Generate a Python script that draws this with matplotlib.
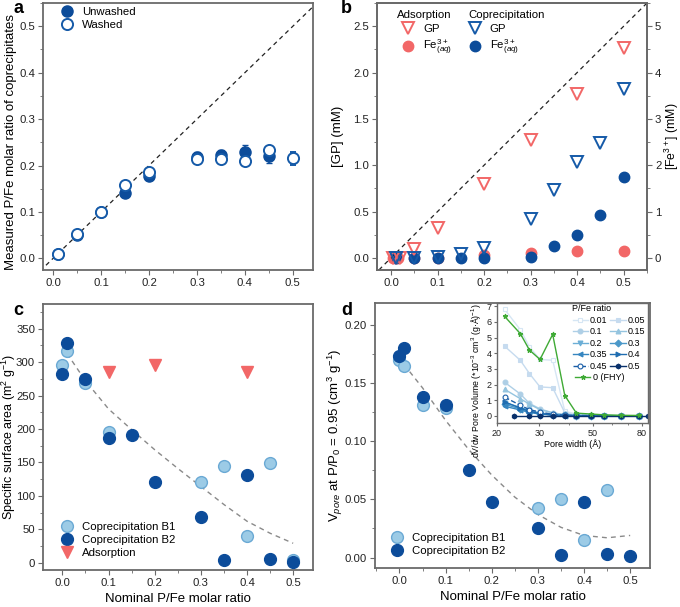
import numpy as np
import matplotlib
matplotlib.use("Agg")
import matplotlib.pyplot as plt
from matplotlib.lines import Line2D
from matplotlib.ticker import MultipleLocator, FixedLocator, NullFormatter, FixedFormatter

plt.rcParams['font.family'] = ['Liberation Sans', 'DejaVu Sans']
plt.rcParams['mathtext.fontset'] = 'custom'
plt.rcParams['mathtext.rm'] = 'Liberation Sans'
plt.rcParams['mathtext.it'] = 'Liberation Sans:italic'
plt.rcParams['mathtext.bf'] = 'Liberation Sans:bold'
plt.rcParams['font.size'] = 8.5

# === Data: panel a ===
a_x_unw = [0.01, 0.05, 0.1, 0.15, 0.2, 0.3, 0.35, 0.4, 0.45]
a_y_unw = [0.010, 0.050, 0.100, 0.140, 0.178, 0.218, 0.222, 0.230, 0.220]
a_e_unw = [0.004, 0.004, 0.004, 0.005, 0.008, 0.012, 0.012, 0.014, 0.014]
a_x_wash = [0.01, 0.05, 0.1, 0.15, 0.2, 0.3, 0.35, 0.4, 0.45, 0.5]
a_y_wash = [0.010, 0.052, 0.100, 0.158, 0.185, 0.213, 0.215, 0.210, 0.233, 0.216]
a_e_wash = [0.005, 0.005, 0.004, 0.004, 0.006, 0.010, 0.008, 0.005, 0.008, 0.014]

# === Data: panel b ===
b_x_ads_gp = [0.005, 0.01, 0.02, 0.05, 0.1, 0.2, 0.3, 0.4, 0.5]
b_y_ads_gp = [0.0, 0.0, 0.0, 0.10, 0.32, 0.80, 1.27, 1.77, 2.27]
b_x_ads_fe = [0.005, 0.015, 0.05, 0.1, 0.2, 0.3, 0.4, 0.5]
b_y_ads_fe = [0.0, 0.0, 0.0, 0.0, 0.07, 0.10, 0.16, 0.15]
b_x_cop = [0.01, 0.05, 0.1, 0.15, 0.2, 0.3, 0.35, 0.4, 0.45, 0.5]
b_y_cop_gp = [0.0, 0.0, 0.01, 0.047, 0.11, 0.42, 0.73, 1.04, 1.24, 1.82]
b_y_cop_fe = [0.0, 0.0, 0.0, 0.0, 0.0, 0.03, 0.26, 0.50, 0.93, 1.75]

# === Data: panel c ===
c_x_b1 = [0.0, 0.01, 0.05, 0.1, 0.3, 0.35, 0.4, 0.45, 0.5]
c_y_b1 = [296, 317, 269, 196, 121, 144, 40, 149, 4]
c_x_b2 = [0.0, 0.01, 0.05, 0.1, 0.15, 0.2, 0.3, 0.35, 0.4, 0.45, 0.5]
c_y_b2 = [283, 328, 275, 187, 191, 121, 68, 4, 131, 5, 1]
c_x_ads = [0.1, 0.2, 0.4]
c_y_ads = [286, 296, 286]
c_fit_x = [0.01, 0.05, 0.1, 0.15, 0.2, 0.25, 0.3, 0.35, 0.4, 0.45, 0.5]
c_fit_y = [313, 272, 230, 199, 169, 141, 114, 87, 62, 44, 29]

# === Data: panel d ===
d_x_b1 = [0.0, 0.01, 0.05, 0.1, 0.3, 0.35, 0.4, 0.45]
d_y_b1 = [0.170, 0.165, 0.131, 0.129, 0.043, 0.050, 0.015, 0.058]
d_x_b2 = [0.0, 0.01, 0.05, 0.1, 0.15, 0.2, 0.3, 0.35, 0.4, 0.45, 0.5]
d_y_b2 = [0.173, 0.180, 0.138, 0.131, 0.075, 0.048, 0.025, 0.002, 0.048, 0.003, 0.0015]
d_fit_x = [0.01, 0.05, 0.1, 0.15, 0.2, 0.25, 0.3, 0.35, 0.4, 0.45, 0.5]
d_fit_y = [0.166, 0.146, 0.118, 0.093, 0.071, 0.052, 0.037, 0.026, 0.019, 0.017, 0.019]

# === Data: inset (pore size distribution) ===
pore_w = [21.5, 25.0, 27.3, 30.2, 34.1, 38.3, 42.8, 49.4, 56.0, 65.7, 77.7]
pore_w_05 = [23.6, 27.3, 30.2, 34.1, 38.3, 42.8, 49.4, 56.0, 65.7, 77.7, 85.0]
psd_labels = ['0.01', '0.05', '0.1', '0.15', '0.2', '0.3', '0.35', '0.4', '0.45', '0.5', '0 (FHY)']
psd_vals = {
    '0.01': [6.8, 5.5, 4.4, 3.6, 3.55, 0.30, 0.12, 0.06, 0.03, 0.02, 0.01],
    '0.05': [4.45, 3.55, 2.7, 1.85, 1.8, 0.20, 0.08, 0.05, 0.03, 0.02, 0.01],
    '0.1': [2.15, 1.4, 0.8, 0.45, 0.2, 0.08, 0.05, 0.03, 0.02, 0.01, 0.01],
    '0.15': [1.7, 1.1, 0.75, 0.4, 0.2, 0.07, 0.04, 0.03, 0.02, 0.01, 0.01],
    '0.2': [0.85, 0.55, 0.35, 0.2, 0.08, 0.04, 0.03, 0.02, 0.01, 0.01, 0.0],
    '0.3': [0.75, 0.45, 0.28, 0.15, 0.06, 0.03, 0.02, 0.01, 0.01, 0.0, 0.0],
    '0.35': [0.62, 0.38, 0.22, 0.12, 0.05, 0.02, 0.01, 0.01, 0.0, 0.0, 0.0],
    '0.4': [0.9, 0.5, 0.3, 0.15, 0.06, 0.03, 0.02, 0.01, 0.01, 0.0, 0.0],
    '0.45': [1.2, 0.68, 0.4, 0.25, 0.1, 0.05, 0.03, 0.02, 0.01, 0.01, 0.0],
    '0.5': [0.0, 0.0, 0.0, 0.0, 0.0, 0.0, 0.0, 0.0, 0.0, 0.0, 0.0],
    '0 (FHY)': [6.35, 5.25, 4.2, 3.6, 5.2, 1.3, 0.18, 0.12, 0.07, 0.04, 0.03],
}
# colour, marker, linestyle, hollow
psd_style = {
    '0.01': ('#d6e6f4', 's', '-', True),
    '0.05': ('#c6dbef', 's', '-', False),
    '0.1': ('#aecfe6', 'o', '-', False),
    '0.15': ('#94c4df', '^', '-', False),
    '0.2': ('#6baed6', 'v', '-', False),
    '0.3': ('#4a98c9', 'D', '-', False),
    '0.35': ('#3585c0', '<', '-', False),
    '0.4': ('#1f6db1', '>', '-', False),
    '0.45': ('#1a5ea8', 'o', '--', True),
    '0.5': ('#08306b', 'h', '-', False),
    '0 (FHY)': ('#3faa35', '*', '-', False),
}

BLUE = '#155aa8'
DARK = '#0c4c9a'
LIGHT = '#9ccbe6'
LIGHT_EDGE = '#6aa9d4'
RED = '#f26767'
SPINE = '#6a6a6a'
TICK_FS = 8.2
LAB_FS = 9.5
LEG_FS = 8.2

W, H = 680, 607
fig = plt.figure(figsize=(W / 100, H / 100), dpi=100)


def px_axes(left, top, right, bottom):
    return fig.add_axes([left / W, 1 - bottom / H, (right - left) / W, (bottom - top) / H])


def style(ax):
    for s in ax.spines.values():
        s.set_color(SPINE)
        s.set_linewidth(1.3)
    ax.tick_params(which='both', direction='out', colors='#222222', labelsize=TICK_FS,
                   top=False, right=False, pad=2.2)
    ax.tick_params(which='major', length=3.5, color=SPINE)
    ax.tick_params(which='minor', length=2, color=SPINE)


# === Panel a ===
ax = px_axes(43, 3, 313, 270)
style(ax)
ax.plot([-0.1, 0.6], [-0.1, 0.6], ls=(0, (3.5, 3)), color='#222222', lw=0.9, zorder=1)
ax.errorbar(a_x_unw, a_y_unw, yerr=a_e_unw, fmt='o', ms=8, color=DARK, mec=DARK,
            capsize=2, elinewidth=1.1, zorder=3)
ax.errorbar(a_x_wash, a_y_wash, yerr=a_e_wash, fmt='o', ms=8, color=BLUE, mfc='white',
            mec=BLUE, mew=1.4, capsize=2, elinewidth=1.1, zorder=4)
ax.set_xlim(-0.021, 0.542)
ax.set_ylim(-0.025, 0.55)
ax.xaxis.set_major_locator(MultipleLocator(0.1))
ax.xaxis.set_minor_locator(MultipleLocator(0.05))
ax.yaxis.set_major_locator(MultipleLocator(0.1))
ax.yaxis.set_minor_locator(MultipleLocator(0.05))
ax.set_ylabel('Measured P/Fe molar ratio of coprecipitates', fontsize=LAB_FS)
ax.yaxis.set_label_coords(-0.096, 0.48)
h1 = Line2D([], [], marker='o', ls='', ms=8, color=DARK)
h2 = Line2D([], [], marker='o', ls='', ms=8, mfc='white', mec=BLUE, mew=1.4)
ax.legend([h1, h2], ['Unwashed', 'Washed'], loc='upper left', frameon=False,
          bbox_to_anchor=(0.056, 0.985), borderaxespad=0, borderpad=0, handlelength=1.6,
          handletextpad=0.5, labelspacing=0.25, fontsize=LEG_FS)
fig.text(13 / W, 1 - 13 / H, 'a', fontsize=13, fontweight='bold')

# === Panel b ===
ax = px_axes(377, 3, 647, 270)
style(ax)
ax2 = ax.twinx()
style(ax2)
ax2.tick_params(which='both', right=True, left=False)
ax.plot([-0.1, 0.6], [-0.5, 3.0], ls=(0, (3.5, 3)), color='#222222', lw=0.9, zorder=1)
ax2.errorbar(b_x_ads_fe, b_y_ads_fe, yerr=0.05, fmt='o', ms=7.5, color=RED, ecolor='white',
             elinewidth=1.0, capsize=1.8, zorder=2)
ax.plot(b_x_ads_gp, b_y_ads_gp, 'v', ms=9, mfc='none', mec=RED, mew=1.4, zorder=3)
ax.plot(b_x_cop, b_y_cop_gp, 'v', ms=9, mfc='none', mec=BLUE, mew=1.4, zorder=3)
ax2.errorbar(b_x_cop, b_y_cop_fe, yerr=[0, 0, 0, 0, 0, 0.05, 0.06, 0.05, 0.04, 0.0],
             fmt='o', ms=7.5, color=DARK, ecolor='white', elinewidth=1.0, capsize=1.8, zorder=4)
ax.set_xlim(-0.03, 0.55)
ax.set_ylim(-0.13, 2.75)
ax2.set_ylim(-0.26, 5.5)
ax.set_zorder(ax2.get_zorder() + 1)
ax.patch.set_visible(False)
ax.xaxis.set_major_locator(MultipleLocator(0.1))
ax.xaxis.set_minor_locator(MultipleLocator(0.05))
ax.yaxis.set_major_locator(MultipleLocator(0.5))
ax.yaxis.set_minor_locator(MultipleLocator(0.25))
ax2.yaxis.set_major_locator(MultipleLocator(1))
ax2.yaxis.set_minor_locator(MultipleLocator(0.5))
ax.set_ylabel('[GP] (mM)', fontsize=LAB_FS)
ax.yaxis.set_label_coords(-0.124, 0.5)
ax2.set_ylabel('[Fe$^{3+}$] (mM)', fontsize=8.8)
ax2.yaxis.set_label_coords(1.058, 0.5)
hb = [Line2D([], [], marker='v', ls='', ms=9, mfc='none', mec=RED, mew=1.4),
      Line2D([], [], marker='o', ls='', ms=7.5, color=RED),
      Line2D([], [], marker='v', ls='', ms=9, mfc='none', mec=BLUE, mew=1.4),
      Line2D([], [], marker='o', ls='', ms=7.5, color=DARK)]
ax.legend(hb, ['GP', 'Fe$^{3+}_{(aq)}$', 'GP', 'Fe$^{3+}_{(aq)}$'], ncol=2, loc='upper left',
          bbox_to_anchor=(0.082, 0.922), borderaxespad=0, borderpad=0, frameon=False,
          fontsize=LEG_FS, columnspacing=1.2, handlelength=1.6, handletextpad=0.5,
          labelspacing=0.3)
ax.text(0.074, 0.975, 'Adsorption', transform=ax.transAxes, fontsize=LEG_FS, va='top')
ax.text(0.34, 0.975, 'Coprecipitation', transform=ax.transAxes, fontsize=LEG_FS, va='top')
fig.text(341 / W, 1 - 13 / H, 'b', fontsize=13, fontweight='bold')

# === Panel c ===
ax = px_axes(43, 304, 313, 570)
style(ax)
ax.plot(c_fit_x, c_fit_y, ls=(0, (3.5, 3)), color='#8a8a8a', lw=1.0, zorder=1)
ax.plot(c_x_b1, c_y_b1, 'o', ms=8.5, mfc=LIGHT, mec=LIGHT_EDGE, mew=1.0, zorder=2,
        label='Coprecipitation B1')
ax.plot(c_x_b2, c_y_b2, 'o', ms=8.5, color=DARK, zorder=3, label='Coprecipitation B2')
ax.plot(c_x_ads, c_y_ads, 'v', ms=9, color=RED, zorder=3, label='Adsorption')
ax.set_xlim(-0.042, 0.543)
ax.set_ylim(-11, 387)
ax.xaxis.set_major_locator(MultipleLocator(0.1))
ax.xaxis.set_minor_locator(MultipleLocator(0.05))
ax.yaxis.set_major_locator(MultipleLocator(50))
ax.yaxis.set_minor_locator(MultipleLocator(25))
ax.set_ylabel('Specific surface area (m$^2$ g$^{-1}$)', fontsize=9)
ax.yaxis.set_label_coords(-0.094, 0.5)
ax.set_xlabel('Nominal P/Fe molar ratio', fontsize=LAB_FS, labelpad=4)
ax.legend(loc='lower left', frameon=False, bbox_to_anchor=(0.056, 0.045), borderaxespad=0,
          borderpad=0, fontsize=LEG_FS, handlelength=1.6, handletextpad=0.5,
          labelspacing=0.25)
fig.text(13 / W, 1 - 315 / H, 'c', fontsize=13, fontweight='bold')

# === Panel d ===
ax = px_axes(375, 303, 650, 568)
style(ax)
ax.plot(d_fit_x, d_fit_y, ls=(0, (3.5, 3)), color='#8a8a8a', lw=1.0, zorder=1)
ax.plot(d_x_b1, d_y_b1, 'o', ms=8.5, mfc=LIGHT, mec=LIGHT_EDGE, mew=1.0, zorder=2,
        label='Coprecipitation B1')
ax.plot(d_x_b2, d_y_b2, 'o', ms=8.5, color=DARK, zorder=3, label='Coprecipitation B2')
ax.set_xlim(-0.053, 0.543)
ax.set_ylim(-0.009, 0.219)
ax.xaxis.set_major_locator(MultipleLocator(0.1))
ax.xaxis.set_minor_locator(MultipleLocator(0.05))
ax.yaxis.set_major_locator(MultipleLocator(0.05))
ax.yaxis.set_minor_locator(MultipleLocator(0.025))
ax.set_ylabel('V$_{pore}$ at P/P$_0$ = 0.95 (cm$^3$ g$^{-1}$)', fontsize=LAB_FS)
ax.yaxis.set_label_coords(-0.11, 0.5)
ax.set_xlabel('Nominal P/Fe molar ratio', fontsize=LAB_FS, labelpad=4)
ax.legend(loc='lower left', frameon=False, bbox_to_anchor=(0.047, 0.045), borderaxespad=0,
          borderpad=0, fontsize=LEG_FS, handlelength=1.6, handletextpad=0.5,
          labelspacing=0.25)
fig.text(341 / W, 1 - 315 / H, 'd', fontsize=13, fontweight='bold')

# === Inset ===
ins = px_axes(497, 303, 648, 423)
for s in ins.spines.values():
    s.set_color(SPINE)
    s.set_linewidth(1.0)
ins.tick_params(which='both', direction='out', labelsize=6.5, colors='#222222', pad=1.5)
ins.tick_params(which='major', length=2.5, color=SPINE)
ins.tick_params(which='minor', length=1.5, color=SPINE)
handles = {}
for lab in psd_labels:
    col, mk, ls, hollow = psd_style[lab]
    xs = pore_w_05 if lab == '0.5' else pore_w
    ln, = ins.plot(xs, psd_vals[lab], ls=ls, marker=mk, color=col, lw=1.0, ms=3.5,
                   mfc='white' if hollow else col, mec=col, mew=0.8,
                   zorder=3 if lab == '0 (FHY)' else 2)
    handles[lab] = ln
ins.set_xscale('log')
ins.set_xlim(20, 85)
ins.set_ylim(-0.45, 7.2)
ins.xaxis.set_major_locator(FixedLocator([20, 30, 50, 80]))
ins.xaxis.set_major_formatter(FixedFormatter(['20', '30', '50', '80']))
ins.xaxis.set_minor_formatter(NullFormatter())
ins.yaxis.set_major_locator(MultipleLocator(1))
ins.set_xlabel('Pore width (Å)', fontsize=6.5, labelpad=1)
ins.set_ylabel('dV/dw Pore Volume (*10$^{-3}$ cm$^3$ (g·Å)$^{-1}$)', fontsize=6.3)
ins.yaxis.set_label_coords(-0.09, 0.35)
order = ['0.01', '0.1', '0.2', '0.35', '0.45', '0.05', '0.15', '0.3', '0.4', '0.5']
leg1 = ins.legend([handles[k] for k in order], order, ncol=2, loc='upper left', frameon=False,
                  title='P/Fe ratio', title_fontsize=6.5, fontsize=6.5, handlelength=1.7,
                  handletextpad=0.25, columnspacing=0.3, labelspacing=0.28, borderaxespad=0,
                  borderpad=0, bbox_to_anchor=(0.5, 0.99))
leg1._legend_box.align = 'left'
ins.add_artist(leg1)
ins.legend([handles['0 (FHY)']], ['0 (FHY)'], loc='upper left', frameon=False, fontsize=6.5,
           handlelength=1.7, handletextpad=0.25, borderaxespad=0, borderpad=0,
           bbox_to_anchor=(0.517, 0.415))

fig.savefig('out.png', dpi=100)
